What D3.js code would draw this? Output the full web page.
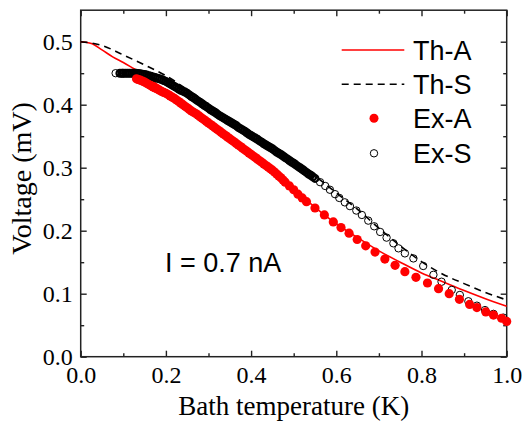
<!DOCTYPE html>
<html>
<head>
<meta charset="utf-8">
<script src="https://cdn.jsdelivr.net/npm/d3@7"></script>
<style>
  body { margin: 0; background: #fff; }
</style>
</head>
<body>
<script>
// theory curves: [T (K), V (mV)]
const thA = [[0,0.500],[0.025,0.497],[0.05,0.487],[0.075,0.476],[0.1,0.467],[0.125,0.457],[0.15,0.447],
  [0.2,0.422],[0.25,0.398],[0.3,0.373],[0.35,0.348],[0.4,0.322],[0.45,0.296],[0.5,0.266],[0.55,0.237],
  [0.6,0.211],[0.65,0.189],[0.7,0.168],[0.75,0.150],[0.8,0.133],[0.85,0.119],[0.9,0.105],[0.95,0.092],[1.0,0.080]];
const thS = [[0,0.500],[0.05,0.494],[0.1,0.479],[0.15,0.463],[0.2,0.446],[0.25,0.424],[0.3,0.400],
  [0.35,0.378],[0.4,0.356],[0.45,0.334],[0.5,0.311],[0.55,0.287],[0.6,0.260],[0.65,0.234],[0.7,0.204],
  [0.75,0.176],[0.8,0.151],[0.85,0.131],[0.9,0.116],[0.95,0.102],[1.0,0.090]];

// measured, A
const exA = [[0.131,0.441],[0.135,0.440],[0.14,0.439],[0.145,0.4375],[0.15,0.436],[0.155,0.434],[0.16,0.432],
  [0.165,0.430],[0.17,0.428],[0.175,0.4265],[0.18,0.425],[0.185,0.423],[0.19,0.421],[0.195,0.4195],
  [0.20,0.418],[0.205,0.416],[0.21,0.414],[0.215,0.412],[0.22,0.410],[0.225,0.4075],[0.23,0.405],
  [0.235,0.4025],[0.24,0.400],[0.245,0.3975],[0.25,0.395],[0.255,0.3925],[0.26,0.390],[0.265,0.388],
  [0.27,0.386],[0.275,0.3835],[0.28,0.381],[0.285,0.3785],[0.29,0.376],[0.295,0.3735],[0.30,0.371],
  [0.305,0.3685],[0.31,0.366],[0.315,0.3635],[0.32,0.361],[0.325,0.3585],[0.33,0.356],[0.335,0.3535],
  [0.34,0.351],[0.345,0.3485],[0.35,0.346],[0.355,0.3435],[0.36,0.341],[0.365,0.3385],[0.37,0.336],
  [0.375,0.3335],[0.38,0.331],[0.385,0.3285],[0.39,0.326],[0.395,0.3235],[0.40,0.321],[0.405,0.3185],
  [0.41,0.316],[0.415,0.3135],[0.42,0.311],[0.425,0.3085],[0.43,0.306],[0.435,0.3035],[0.44,0.301],
  [0.445,0.2985],[0.45,0.296],[0.455,0.293],[0.46,0.290],[0.465,0.287],[0.47,0.284],[0.475,0.2805],
  [0.48,0.277],[0.49,0.271],[0.50,0.265],[0.51,0.258],[0.52,0.252],[0.53,0.246],[0.55,0.236],
  [0.572,0.225],[0.593,0.214],[0.611,0.205],[0.630,0.196],[0.649,0.186],[0.669,0.176],[0.691,0.166],
  [0.714,0.155],[0.738,0.145],[0.761,0.135],[0.787,0.126],[0.814,0.117],[0.84,0.108],[0.865,0.100],
  [0.889,0.091],[0.913,0.083],[0.93,0.078],[0.951,0.071],[0.969,0.066],[0.988,0.061],[1.0,0.056]];

// measured, S
const exS = [[0.082,0.450],
  [0.092,0.450],[0.097,0.450],[0.100,0.450],[0.105,0.450],[0.110,0.450],[0.115,0.450],[0.120,0.450],
  [0.125,0.450],[0.130,0.450],[0.135,0.4495],[0.140,0.449],[0.145,0.4485],[0.150,0.448],[0.155,0.447],
  [0.160,0.446],[0.165,0.445],[0.170,0.444],[0.175,0.443],[0.180,0.442],[0.185,0.441],[0.190,0.440],
  [0.195,0.4385],[0.200,0.437],[0.205,0.435],[0.210,0.433],[0.215,0.431],[0.220,0.429],[0.225,0.427],
  [0.230,0.425],[0.235,0.423],[0.240,0.4215],[0.245,0.420],[0.250,0.418],[0.255,0.4155],[0.260,0.413],
  [0.265,0.411],[0.270,0.4085],[0.275,0.406],[0.280,0.404],[0.285,0.4015],[0.290,0.399],[0.295,0.397],
  [0.300,0.3945],[0.305,0.392],[0.310,0.390],[0.315,0.388],[0.320,0.3855],[0.325,0.383],[0.330,0.381],
  [0.335,0.379],[0.340,0.377],[0.345,0.375],[0.350,0.373],[0.355,0.371],[0.360,0.369],[0.365,0.367],
  [0.370,0.364],[0.375,0.362],[0.380,0.360],[0.385,0.358],[0.390,0.3555],[0.395,0.353],[0.400,0.351],
  [0.405,0.349],[0.410,0.347],[0.415,0.345],[0.420,0.3425],[0.425,0.3405],[0.430,0.338],[0.435,0.336],
  [0.440,0.334],[0.445,0.332],[0.450,0.330],[0.455,0.3275],[0.460,0.325],[0.465,0.323],[0.470,0.321],
  [0.475,0.3185],[0.480,0.316],[0.485,0.314],[0.490,0.3115],[0.495,0.309],[0.500,0.307],[0.505,0.3045],
  [0.510,0.302],[0.515,0.300],[0.520,0.2975],[0.525,0.295],[0.530,0.2925],[0.535,0.290],[0.540,0.288],
  [0.545,0.2855],[0.550,0.283],[0.562,0.277],[0.574,0.271],[0.585,0.265],[0.597,0.258],[0.607,0.252],
  [0.620,0.245],[0.632,0.239],[0.647,0.232],[0.660,0.225],[0.675,0.216],[0.689,0.207],[0.703,0.198],
  [0.718,0.189],[0.734,0.180],[0.746,0.172],[0.761,0.164],[0.781,0.156],[0.804,0.144],[0.828,0.130],
  [0.847,0.119],[0.871,0.106],[0.890,0.098],[0.910,0.088],[0.930,0.081],[0.949,0.074],[0.969,0.068],
  [0.992,0.062]];

const xTicks = [0, 0.2, 0.4, 0.6, 0.8, 1.0];
const xMinor = [0.1, 0.3, 0.5, 0.7, 0.9];
const yTicks = [0, 0.1, 0.2, 0.3, 0.4, 0.5];
const yMinor = [0.05, 0.15, 0.25, 0.35, 0.45];
const legendLabels = ["Th-A", "Th-S", "Ex-A", "Ex-S"];

const width = 525, height = 427;
const serif = "'Liberation Serif', 'Times New Roman', serif";
const sans = "'Liberation Sans', Arial, sans-serif";

const x = d3.scaleLinear().domain([0, 1]).range([80.7, 506.7]);
const y = d3.scaleLinear().domain([0, 0.55]).range([356.7, 10.2]);

const svg = d3.select("body").append("svg")
  .attr("width", width)
  .attr("height", height);

// 軸 (ticks inward on all four sides)
function drawAxis(axis, tx, ty, labels) {
  const g = svg.append("g").attr("transform", `translate(${tx},${ty})`).call(axis);
  g.select(".domain").remove();
  g.selectAll(".tick line").attr("stroke", "#222").attr("stroke-width", 1.4);
  if (!labels) g.selectAll(".tick text").remove();
  return g;
}
const fmt = d3.format(".1f");
const bx = drawAxis(d3.axisBottom(x).tickValues(xTicks).tickSize(-6).tickPadding(9).tickFormat(fmt), 0, 356.7, true);
drawAxis(d3.axisBottom(x).tickValues(xMinor).tickSize(-3.5).tickFormat(""), 0, 356.7, false);
drawAxis(d3.axisTop(x).tickValues(xTicks).tickSize(-6), 0, 10.2, false);
drawAxis(d3.axisTop(x).tickValues(xMinor).tickSize(-3.5), 0, 10.2, false);
const ly = drawAxis(d3.axisLeft(y).tickValues(yTicks).tickSize(-6).tickPadding(8).tickFormat(fmt), 80.7, 0, true);
drawAxis(d3.axisLeft(y).tickValues(yMinor).tickSize(-3.5).tickFormat(""), 80.7, 0, false);
drawAxis(d3.axisRight(y).tickValues(yTicks).tickSize(-6), 506.7, 0, false);
drawAxis(d3.axisRight(y).tickValues(yMinor).tickSize(-3.5), 506.7, 0, false);

bx.selectAll(".tick text")
  .attr("font-family", serif).attr("font-size", 24).attr("fill", "#000");
ly.selectAll(".tick text")
  .attr("font-family", serif).attr("font-size", 24).attr("fill", "#000");

// frame
svg.append("rect")
  .attr("x", 80.7).attr("y", 10.2)
  .attr("width", 426).attr("height", 346.5)
  .attr("fill", "none").attr("stroke", "#222").attr("stroke-width", 1.5);

// theory lines
const line = d3.line().x(d => x(d[0])).y(d => y(d[1])).curve(d3.curveMonotoneX);
svg.append("path").datum(thA)
  .attr("d", line).attr("fill", "none").attr("stroke", "#f00").attr("stroke-width", 1.6);
svg.append("path").datum(thS)
  .attr("d", line).attr("fill", "none").attr("stroke", "#000").attr("stroke-width", 1.6)
  .attr("stroke-dasharray", "7,5");

// data points; where the open circles crowd together they merge into a solid band
const crowded = (arr, i) =>
  (i > 0 && arr[i][0] - arr[i - 1][0] < 0.006) ||
  (i < arr.length - 1 && arr[i + 1][0] - arr[i][0] < 0.006);
svg.append("g").selectAll("circle").data(exS).join("circle")
  .attr("cx", d => x(d[0])).attr("cy", d => y(d[1]))
  .attr("r", (d, i) => crowded(exS, i) ? 3.4 : 3.7)
  .attr("fill", "none").attr("stroke", "#000")
  .attr("stroke-width", (d, i) => crowded(exS, i) ? 2.2 : 1);
svg.append("g").selectAll("circle").data(exA).join("circle")
  .attr("cx", d => x(d[0])).attr("cy", d => y(d[1])).attr("r", 4.6)
  .attr("fill", "#f00");

// 圖例
const lg = svg.append("g");
lg.append("line").attr("x1", 341.7).attr("x2", 404.3).attr("y1", 50).attr("y2", 50)
  .attr("stroke", "#f00").attr("stroke-width", 1.6);
lg.append("line").attr("x1", 341.7).attr("x2", 404.3).attr("y1", 84.3).attr("y2", 84.3)
  .attr("stroke", "#000").attr("stroke-width", 1.6).attr("stroke-dasharray", "7,5");
lg.append("circle").attr("cx", 374).attr("cy", 118.3).attr("r", 4.5).attr("fill", "#f00");
lg.append("circle").attr("cx", 374).attr("cy", 153.3).attr("r", 3.7)
  .attr("fill", "none").attr("stroke", "#000").attr("stroke-width", 1);
lg.selectAll("text").data(legendLabels).join("text")
  .attr("x", 413).attr("y", (d, i) => 60 + i * 34.2)
  .attr("font-family", sans).attr("font-size", 27)
  .text(d => d);

// annotation
svg.append("text")
  .attr("x", 165).attr("y", 271.7)
  .attr("font-family", sans).attr("font-size", 27)
  .text("I = 0.7 nA");

// axis titles
svg.append("text")
  .attr("x", 293.7).attr("y", 415)
  .attr("text-anchor", "middle")
  .attr("font-family", serif).attr("font-size", 27)
  .text("Bath temperature (K)");
svg.append("text")
  .attr("transform", "translate(31,178.5) rotate(-90)")
  .attr("text-anchor", "middle")
  .attr("font-family", serif).attr("font-size", 28)
  .text("Voltage (mV)");
</script>
</body>
</html>
